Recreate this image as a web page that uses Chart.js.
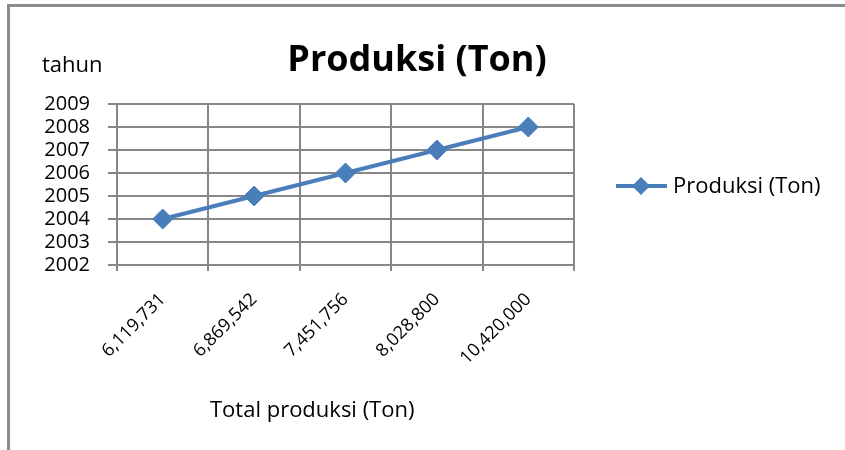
<!DOCTYPE html>
<html>
<head>
<meta charset="utf-8">
<script src="https://cdn.jsdelivr.net/npm/chart.js@4/dist/chart.umd.min.js"></script>
<style>
  html, body { margin: 0; padding: 0; background: #fff; overflow: hidden; }
  #wrap { position: relative; width: 845px; height: 450px; overflow: hidden; }
  #frame { position: absolute; left: 7px; top: 4px; width: 900px; height: 500px;
           border-left: 3px solid #8c8c8c; border-top: 3px solid #8c8c8c; box-sizing: border-box; }
  canvas { position: absolute; left: 0; top: 0; }
</style>
</head>
<body>
<div id="wrap">
  <div id="frame"></div>
  <canvas id="c" width="845" height="450"></canvas>
</div>
<script>
// ---- data ----
const categories = ["6,119,731", "6,869,542", "7,451,756", "8,028,800", "10,420,000"];
const tahunValues = [2004, 2005, 2006, 2007, 2008];
const yTickMin = 2002;
const yTickMax = 2009;
const seriesName = "Produksi (Ton)";
const chartTitle = "Produksi (Ton)";
const yAxisTitle = "tahun";
const xAxisTitle = "Total produksi (Ton)";

const FONT = "'Open Sans', 'DejaVu Sans', sans-serif";
const LINE_COLOR = "#4a7ebb";
const GRID_COLOR = "#878787";

const textPlugin = {
  id: 'texts',
  afterDraw(chart) {
    const ctx = chart.ctx;
    ctx.save();
    ctx.fillStyle = '#000';
    // title
    ctx.font = "bold 36px " + FONT;
    ctx.textAlign = 'center';
    ctx.textBaseline = 'alphabetic';
    ctx.fillText(chartTitle, 417, 71);
    // y-axis title
    ctx.font = "22px " + FONT;
    ctx.textAlign = 'left';
    ctx.fillText(yAxisTitle, 42, 72);
    // x-axis title
    ctx.fillText(xAxisTitle, 210, 417);
    // legend
    const ly = 186;
    ctx.strokeStyle = LINE_COLOR;
    ctx.lineWidth = 4;
    ctx.beginPath();
    ctx.moveTo(616, ly);
    ctx.lineTo(667, ly);
    ctx.stroke();
    ctx.fillStyle = LINE_COLOR;
    ctx.beginPath();
    ctx.moveTo(641, ly - 9);
    ctx.lineTo(650, ly);
    ctx.lineTo(641, ly + 9);
    ctx.lineTo(632, ly);
    ctx.closePath();
    ctx.fill();
    ctx.fillStyle = '#000';
    ctx.textBaseline = 'middle';
    ctx.fillText(seriesName, 673, ly + 1);
    ctx.restore();
  }
};

new Chart(document.getElementById('c'), {
  type: 'line',
  data: {
    labels: categories,
    datasets: [{
      label: seriesName,
      data: tahunValues,
      borderColor: LINE_COLOR,
      backgroundColor: LINE_COLOR,
      borderWidth: 4,
      pointStyle: 'rectRot',
      pointRadius: 10,
      pointBorderWidth: 1,
      pointBackgroundColor: LINE_COLOR,
      pointBorderColor: LINE_COLOR,
      tension: 0,
      fill: false
    }]
  },
  options: {
    responsive: false,
    animation: false,
    devicePixelRatio: 1,
    layout: { padding: { top: 104, right: 271, bottom: 0, left: 0 } },
    plugins: {
      legend: { display: false },
      title: { display: false },
      tooltip: { enabled: false }
    },
    scales: {
      x: {
        type: 'category',
        offset: true,
        grid: { offset: true, color: GRID_COLOR, lineWidth: 2, tickLength: 6, tickColor: GRID_COLOR },
        border: { color: GRID_COLOR, width: 2 },
        ticks: { maxRotation: 45, minRotation: 45, autoSkip: false, padding: 18, color: '#000', font: { family: FONT, size: 18 } },
        afterFit(s) { s.height = 185; }
      },
      y: {
        min: yTickMin,
        max: yTickMax,
        grid: { color: GRID_COLOR, lineWidth: 2, tickLength: 9, tickColor: GRID_COLOR },
        border: { color: GRID_COLOR, width: 2 },
        ticks: { stepSize: 1, autoSkip: false, padding: 18, color: '#000', font: { family: FONT, size: 20 },
                 callback: v => String(v) },
        afterFit(s) { s.width = 117; }
      }
    }
  },
  plugins: [textPlugin]
});
</script>
</body>
</html>
